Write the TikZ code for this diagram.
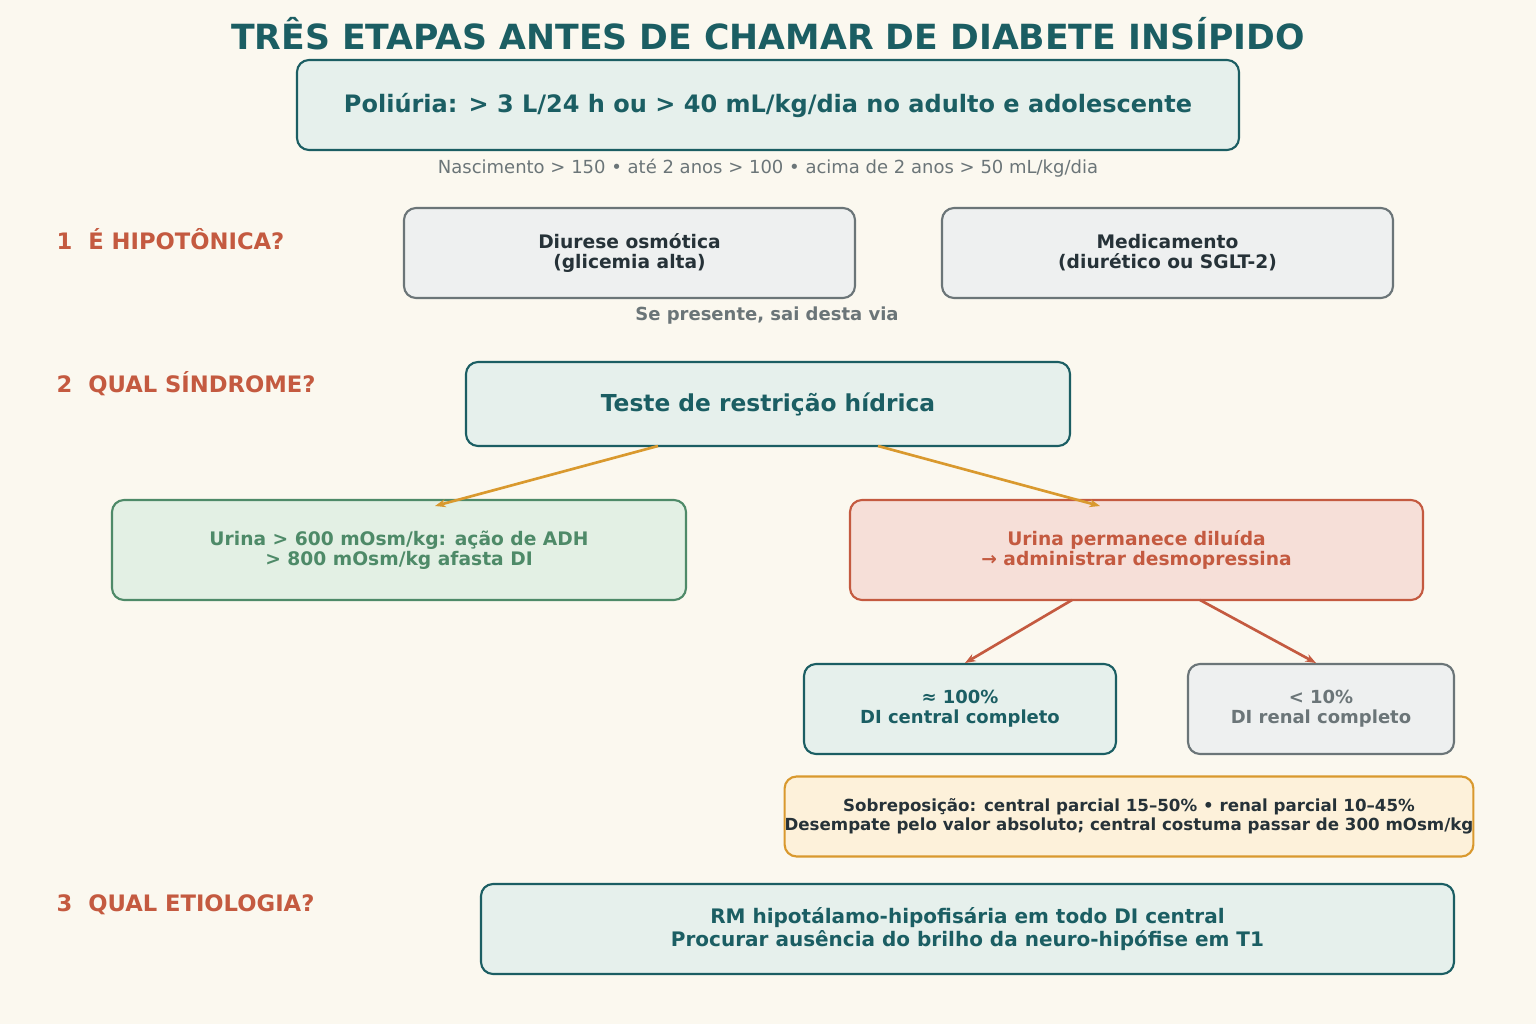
\documentclass[tikz,border=0pt]{standalone}
\usepackage{fontspec}
\setmainfont{DejaVu Sans}
\usetikzlibrary{arrows.meta}
\definecolor{bg}{HTML}{FBF8EF}
\definecolor{teal}{HTML}{1B5E63}
\definecolor{tealf}{HTML}{E6F0EC}
\definecolor{gr}{HTML}{6B7578}
\definecolor{grf}{HTML}{EEF0F0}
\definecolor{dk}{HTML}{263238}
\definecolor{grn}{HTML}{4E8A68}
\definecolor{grnf}{HTML}{E3F0E4}
\definecolor{rd}{HTML}{C45A40}
\definecolor{rdf}{HTML}{F6DFD8}
\definecolor{yl}{HTML}{D9992E}
\definecolor{ylf}{HTML}{FDF1DA}
\begin{document}
\begin{tikzpicture}[x=0.75pt,y=-0.75pt,
 box/.style={rounded corners=9pt,line width=1.6pt,align=center,inner sep=0pt,font=\bfseries\fontsize{14}{15}\selectfont},
 tb/.style={box,draw=teal,fill=tealf,text=teal},
 gb/.style={box,draw=gr,fill=grf,text=dk},
 steplbl/.style={anchor=west,text=rd,font=\bfseries\fontsize{17}{20}\selectfont},
 oa/.style={draw=yl,line width=2pt,-{Stealth[length=8pt,width=6pt]}},
 ra/.style={draw=rd,line width=2pt,-{Stealth[length=8pt,width=6pt]}}]
\fill[bg] (0,0) rectangle (1536,1024);
\node[text=teal,font=\bfseries\fontsize{26}{30}\selectfont] (title) at (768,34) {TRÊS ETAPAS ANTES DE CHAMAR DE DIABETE INSÍPIDO};
\node[tb,minimum width=942*0.75pt,minimum height=90*0.75pt,font=\bfseries\fontsize{18}{20}\selectfont] (pol) at (768,105) {Poliúria: > 3 L/24 h ou > 40 mL/kg/dia no adulto e adolescente};
\node[text=gr,font=\fontsize{13.5}{15}\selectfont] (sub) at (768,168) {Nascimento > 150 • até 2 anos > 100 • acima de 2 anos > 50 mL/kg/dia};
\node[steplbl] (s1) at (52,239) {1\ \ É HIPOTÔNICA?};
\node[steplbl] (s2) at (52,384) {2\ \ QUAL SÍNDROME?};
\node[steplbl] (s3) at (52,905) {3\ \ QUAL ETIOLOGIA?};
\node[gb,minimum width=451*0.75pt,minimum height=90*0.75pt] (diu) at (629.5,253) {Diurese osmótica\\(glicemia alta)};
\node[gb,minimum width=451*0.75pt,minimum height=90*0.75pt] (med) at (1167.5,253) {Medicamento\\(diurético ou SGLT-2)};
\node[text=gr,font=\bfseries\fontsize{13.5}{15}\selectfont] (se) at (767,316) {Se presente, sai desta via};
\node[tb,minimum width=604*0.75pt,minimum height=84*0.75pt,font=\bfseries\fontsize{17.5}{20}\selectfont] (teste) at (768,404) {Teste de restrição hídrica};
\node[box,draw=grn,fill=grnf,text=grn,minimum width=574*0.75pt,minimum height=100*0.75pt] (urg) at (399,550) {Urina > 600 mOsm/kg: ação de ADH\\> 800 mOsm/kg afasta DI};
\node[box,draw=rd,fill=rdf,text=rd,minimum width=573*0.75pt,minimum height=100*0.75pt] (urr) at (1136.5,550) {Urina permanece diluída\\→ administrar desmopressina};
\node[tb,minimum width=312*0.75pt,minimum height=90*0.75pt,font=\bfseries\fontsize{13.5}{15}\selectfont] (c100) at (960,709) {≈ 100\%\\DI central completo};
\node[gb,text=gr,minimum width=266*0.75pt,minimum height=90*0.75pt,font=\bfseries\fontsize{13.5}{15}\selectfont] (c10) at (1321,709) {< 10\%\\DI renal completo};
\node[box,draw=yl,fill=ylf,text=dk,minimum width=650*0.75pt,minimum height=80*0.75pt,font=\bfseries\fontsize{12.5}{14}\selectfont] (sob) at (1129,816.5) {Sobreposição: central parcial 15–50\% • renal parcial 10–45\%\\Desempate pelo valor absoluto; central costuma passar de 300 mOsm/kg};
\node[tb,minimum width=973*0.75pt,minimum height=90*0.75pt,font=\bfseries\fontsize{15}{17}\selectfont] (rm) at (967.5,929) {RM hipotálamo-hipofisária em todo DI central\\Procurar ausência do brilho da neuro-hipófise em T1};
\coordinate (t1) at (658,446); \coordinate (t2) at (878,446);
\coordinate (g1) at (435,506); \coordinate (r1) at (1100,506);
\draw[oa] (t1) -- (g1);
\draw[oa] (t2) -- (r1);
\coordinate (u1) at (1072,600); \coordinate (u2) at (1200,600);
\coordinate (a1) at (965,663); \coordinate (a2) at (1316,663);
\draw[ra] (u1) -- (a1);
\draw[ra] (u2) -- (a2);
\end{tikzpicture}
\end{document}
